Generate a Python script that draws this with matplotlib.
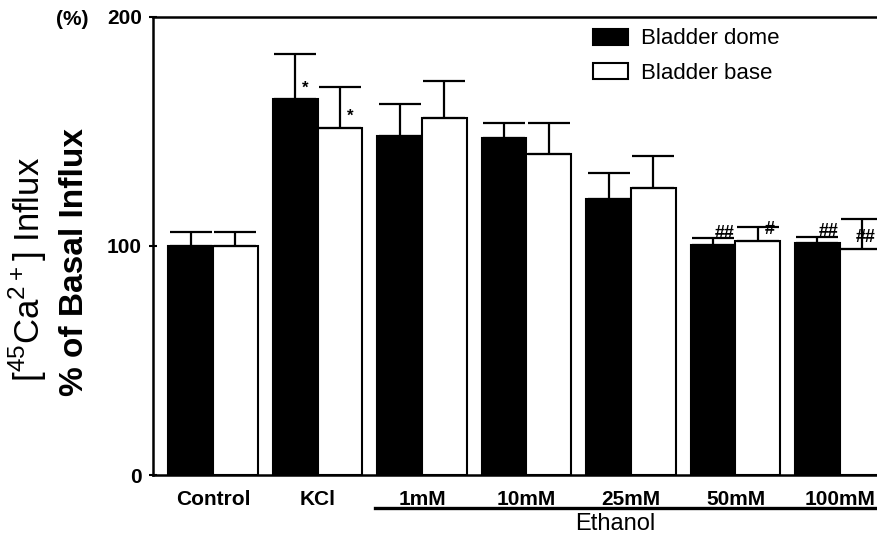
import numpy as np
import matplotlib
matplotlib.use("Agg")
import matplotlib.pyplot as plt
from matplotlib.patches import Patch
from matplotlib.transforms import blended_transform_factory

plt.rcParams['font.family'] = ['Liberation Sans', 'DejaVu Sans']

groups = ['Control', 'KCl', '1mM', '10mM', '25mM', '50mM', '100mM']
dome = [100, 164, 148, 147, 120.5, 100.5, 101.5]
dome_err = [6, 20, 14, 6.5, 11.5, 3, 2.5]
base = [100, 151.5, 156, 140, 125.5, 102, 98.7]
base_err = [6, 18, 16, 13.5, 14, 6.5, 13]
sig_dome = ['', '*', '', '', '', '##', '##']
sig_base = ['', '*', '', '', '', '#', '##']
yticks = [0, 100, 200]

x = np.arange(len(groups))
w = 0.43
xmax = 6.364

fig = plt.figure(figsize=(8.78, 5.36), dpi=100)
ax = fig.add_axes([0.1743, 0.1138, 0.8257, 0.8545])

zeros = [0] * len(groups)
ax.bar(x - w / 2, dome, w, color='black', edgecolor='black', linewidth=1.5,
       yerr=[zeros, dome_err], capsize=15,
       error_kw=dict(elinewidth=1.6, capthick=1.6, ecolor='black'))
ax.bar(x + w / 2, base, w, color='white', edgecolor='black', linewidth=1.5,
       yerr=[zeros, base_err], capsize=15,
       error_kw=dict(elinewidth=1.6, capthick=1.6, ecolor='black'))

# significance marks
for i in range(len(groups)):
    for s, xc, v in [(sig_dome[i], x[i] - w / 2, dome[i]), (sig_base[i], x[i] + w / 2, base[i])]:
        if not s:
            continue
        if s == '*':
            ax.text(xc + 0.1, v + 5, s, ha='center', va='center', fontsize=12, fontweight='bold')
        else:
            ax.text(min(xc + 0.11, xmax - 0.12), v + 5, s, ha='center', va='center',
                    fontsize=13, fontweight='bold')

ax.set_xlim(-0.574, xmax)
ax.set_ylim(0, 200)
ax.set_yticks(yticks)
ax.set_yticklabels([str(t) for t in yticks], fontsize=15, fontweight='bold')
ax.set_xticks(x)
ax.set_xticklabels(groups, fontsize=15, fontweight='bold')
ax.tick_params(axis='x', length=0, pad=11)
ax.tick_params(axis='y', direction='inout', length=6, width=1.5, pad=5)

ax.spines['right'].set_visible(False)
for sp in ['left', 'top', 'bottom']:
    ax.spines[sp].set_linewidth(1.8)

# ethanol bracket line and label
trans = blended_transform_factory(ax.transData, ax.transAxes)
ax.plot([2 - 0.45, xmax], [-0.072, -0.072], color='black', lw=2.4,
        transform=trans, clip_on=False)
ax.text(3.85, -0.106, 'Ethanol', transform=trans, ha='center', va='center', fontsize=17)

handles = [Patch(facecolor='black', edgecolor='black', linewidth=1.5),
           Patch(facecolor='white', edgecolor='black', linewidth=1.5)]
ax.legend(handles, ['Bladder dome', 'Bladder base'], loc='upper left',
          bbox_to_anchor=(0.607, 0.975), frameon=False, fontsize=16,
          handlelength=1.55, handleheight=0.73, handletextpad=0.6,
          labelspacing=0.6, borderpad=0, borderaxespad=0)

fig.text(0.082, 0.963, '(%)', fontsize=15, fontweight='bold', ha='center', va='center')
fig.text(0.032, 0.498, r'[$^{\mathregular{45}}$Ca$^{\mathregular{2+}}$] Influx',
         rotation=90, fontsize=25, ha='center', va='center')
fig.text(0.085, 0.511, '% of Basal Influx', rotation=90, fontsize=24,
         fontweight='bold', ha='center', va='center')

fig.savefig('out.png', dpi=100)
